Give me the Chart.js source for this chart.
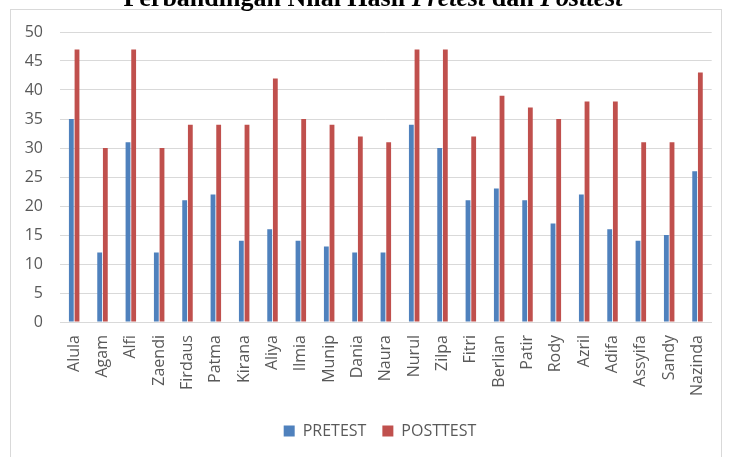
<!DOCTYPE html>
<html>
<head>
<meta charset="utf-8">
<script src="https://cdn.jsdelivr.net/npm/chart.js@4/dist/chart.umd.min.js"></script>
<style>
  html, body { margin: 0; padding: 0; background: #fff; }
  #wrap { position: relative; width: 730px; height: 457px; overflow: hidden; }
  #title {
    position: absolute; left: 16px; top: -15px; width: 714px;
    text-align: center; font-family: "Liberation Serif", "Times New Roman", serif;
    font-weight: bold; font-size: 26px; line-height: 26px; color: #000; z-index: 2;
    white-space: nowrap;
  }
  canvas { position: absolute; left: 0; top: 0; }
</style>
</head>
<body>
<div id="wrap">
  <div id="title">Perbandingan Nilai Hasil <i>Pretest</i> dan <i>Posttest</i></div>
  <canvas id="c" width="730" height="457"></canvas>
</div>
<script>
// Student names along the x axis
const categories = ['Alula', 'Agam', 'Alfi', 'Zaendi', 'Firdaus', 'Patma', 'Kirana', 'Aliya',
  'Ilmia', 'Munip', 'Dania', 'Naura', 'Nurul', 'Zilpa', 'Fitri', 'Berlian', 'Patir', 'Rody',
  'Azril', 'Adifa', 'Assyifa', 'Sandy', 'Nazinda'];

// Scores per student
const pretest  = [35, 12, 31, 12, 21, 22, 14, 16, 14, 13, 12, 12, 34, 30, 21, 23, 21, 17, 22, 16, 14, 15, 26];
const posttest = [47, 30, 47, 30, 34, 34, 34, 42, 35, 34, 32, 31, 47, 47, 32, 39, 37, 35, 38, 38, 31, 31, 43];

// Value axis range
const yMin = 0, yMax = 50, yStep = 5;

const seriesNames = ['PRETEST', 'POSTTEST'];
const seriesColors = ['#4F81BD', '#C0504D'];

const textColor = '#595959';
const font = { family: '"Open Sans", "Liberation Sans", sans-serif', size: 16 };

// White background and the thin frame around the chart
const framePlugin = {
  id: 'frame',
  beforeDraw(chart) {
    const ctx = chart.ctx;
    ctx.save();
    ctx.fillStyle = '#fff';
    ctx.fillRect(0, 0, chart.width, chart.height);
    ctx.strokeStyle = '#d9d9d9';
    ctx.lineWidth = 1;
    ctx.strokeRect(10.5, 9.5, 711, 470);
    ctx.restore();
  }
};

// Centre the legend under the plot area rather than the whole canvas
const legendShift = {
  id: 'legendShift',
  afterLayout(chart) {
    const lg = chart.legend;
    if (!lg) return;
    const dx = 14;
    lg.left += dx;
    lg.right += dx;
  }
};

new Chart(document.getElementById('c'), {
  type: 'bar',
  data: {
    labels: categories,
    datasets: [
      { label: seriesNames[0], data: pretest, backgroundColor: seriesColors[0] },
      { label: seriesNames[1], data: posttest, backgroundColor: seriesColors[1] }
    ]
  },
  options: {
    responsive: false,
    animation: false,
    devicePixelRatio: 1,
    categoryPercentage: 0.4,
    barPercentage: 0.85,
    layout: { padding: { left: 15, right: 13, top: 32, bottom: 8 } },
    plugins: {
      title: { display: false },
      tooltip: { enabled: false },
      legend: {
        position: 'bottom',
        labels: { boxWidth: 11, boxHeight: 11, padding: 16, color: textColor, font: font }
      }
    },
    scales: {
      x: {
        grid: { display: false, drawTicks: false },
        border: { display: true, color: '#d9d9d9' },
        ticks: { autoSkip: false, maxRotation: 90, minRotation: 90, padding: 13, color: textColor, font: font },
        afterFit(scale) { scale.height = 85; }
      },
      y: {
        min: yMin, max: yMax,
        grid: { color: '#d9d9d9', drawTicks: false },
        border: { display: false },
        ticks: { stepSize: yStep, padding: 17, color: textColor, font: font },
        afterFit(scale) { scale.width = 45; }
      }
    }
  },
  plugins: [framePlugin, legendShift]
});
</script>
</body>
</html>
